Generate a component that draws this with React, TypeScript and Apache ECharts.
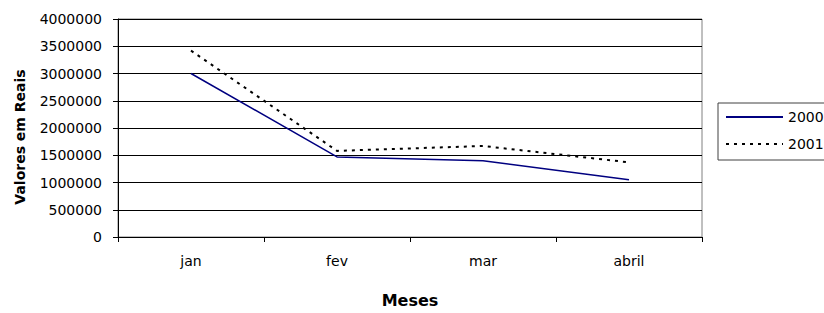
import React, { useEffect, useRef } from "react";
import * as echarts from "echarts";

const months = ["jan", "fev", "mar", "abril"];
const serie2000 = [3000000, 1470000, 1400000, 1050000];
const serie2001 = [3420000, 1580000, 1670000, 1370000];
const yTitle = "Valores em Reais";
const xTitle = "Meses";

const FONT = "DejaVu Sans";

export default function App() {
  const ref = useRef<HTMLDivElement>(null);
  useEffect(() => {
    if (!ref.current) return;
    const chart = echarts.init(ref.current, null, { renderer: "svg" });
    chart.setOption({
      animation: false,
      backgroundColor: "#ffffff",
      grid: {
        left: 118,
        top: 19,
        width: 584,
        height: 223,
        show: true,
        borderColor: "#808080",
        borderWidth: 1,
      },
      xAxis: {
        type: "category",
        data: months,
        boundaryGap: true,
        name: xTitle,
        nameLocation: "middle",
        nameGap: 55,
        nameTextStyle: { fontFamily: FONT, fontSize: 16, fontWeight: "bold", color: "#000" },
        axisLine: { lineStyle: { color: "#000", width: 1 } },
        axisTick: { show: true, length: 5, inside: false, lineStyle: { color: "#000" } },
        axisLabel: { fontFamily: FONT, fontSize: 14, color: "#000", margin: 17 },
        splitLine: { show: false },
      },
      yAxis: {
        type: "value",
        min: 0,
        max: 4000000,
        interval: 500000,
        axisLine: { show: true, lineStyle: { color: "#000", width: 1 } },
        axisTick: { show: true, length: 5, lineStyle: { color: "#000" } },
        axisLabel: {
          fontFamily: FONT,
          fontSize: 14,
          color: "#000",
          margin: 16,
          formatter: (v: number) => String(v),
        },
        splitLine: { show: true, lineStyle: { color: "#000", width: 1 } },
      },
      legend: {
        orient: "vertical",
        left: 718,
        top: 103,
        padding: [7, 7, 9, 7],
        itemWidth: 57,
        itemHeight: 14,
        itemGap: 13,
        borderColor: "#404040",
        borderWidth: 1,
        itemStyle: { opacity: 0, color: "transparent", borderWidth: 0 },
        textStyle: { fontFamily: FONT, fontSize: 14, color: "#000", padding: [0, 0, 0, 0] },
        data: ["2000", "2001"],
      },
      graphic: [
        {
          type: "text",
          x: 20,
          y: 137,
          rotation: Math.PI / 2,
          style: {
            text: yTitle,
            fontFamily: FONT,
            fontSize: 14,
            fontWeight: "bold",
            fill: "#000",
            align: "center",
            verticalAlign: "middle",
          },
        },
      ],
      series: [
        {
          name: "2000",
          type: "line",
          data: serie2000,
          symbol: "none",
          lineStyle: { color: "#000080", width: 1.5 },
          itemStyle: { color: "#000080" },
        },
        {
          name: "2001",
          type: "line",
          data: serie2001,
          symbol: "none",
          lineStyle: { color: "#000", width: 2, type: [3, 5] },
          itemStyle: { color: "#000" },
        },
      ],
    });
    return () => chart.dispose();
  }, []);
  return <div ref={ref} style={{ width: 824, height: 313, position: "absolute", left: 0, top: 0 }} />;
}
